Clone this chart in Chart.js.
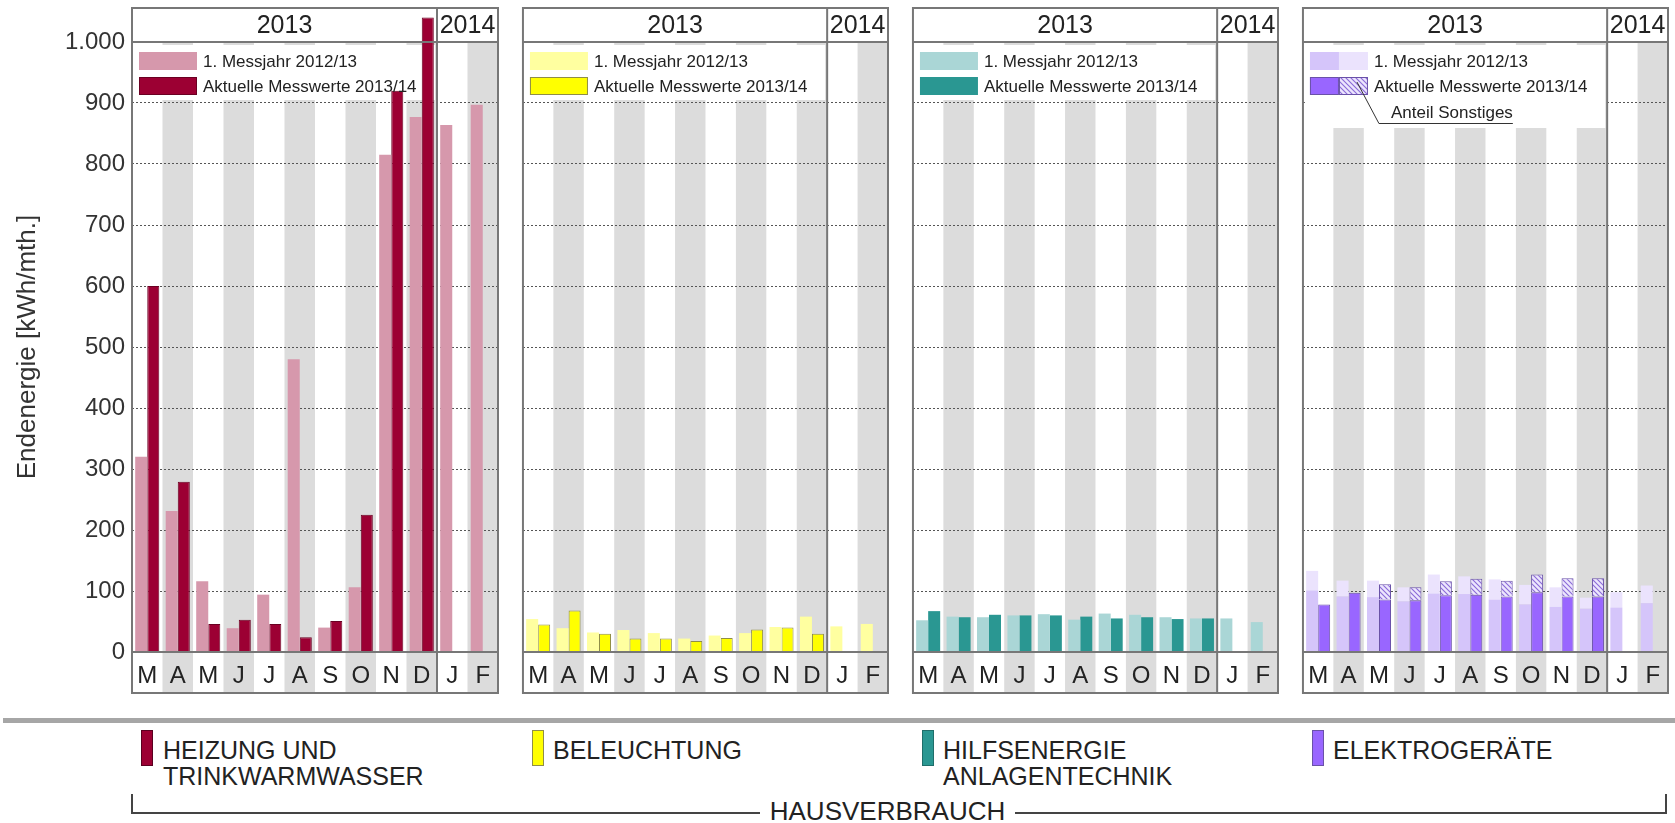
<!DOCTYPE html>
<html>
<head>
<meta charset="utf-8">
<script src="https://cdn.jsdelivr.net/npm/chart.js@4.4.1/dist/chart.umd.min.js"></script>
<style>
  html, body { margin: 0; padding: 0; background: #fff; }
  body { width: 1675px; height: 823px; position: relative; overflow: hidden;
         font-family: "Liberation Sans", Arial, sans-serif; color: #222; }
  canvas { position: absolute; top: 0; }
  .sep { position: absolute; left: 3px; right: 0; top: 718px; height: 5px; background: #a6a6a6; }
  .key { position: absolute; top: 730px; width: 10px; height: 34px; border: 1px solid #555; }
  .keytext { position: absolute; top: 737px; font-size: 25px; line-height: 26px; white-space: nowrap; }
  .br { position: absolute; background: #444; }
  .total { position: absolute; top: 798px; left: 760px; width: 255px; text-align: center;
           font-size: 26px; line-height: 26px; }
</style>
</head>
<body>
<canvas id="p0" width="502" height="700" style="left:0px"></canvas>
<canvas id="p1" width="374" height="700" style="left:518px"></canvas>
<canvas id="p2" width="374" height="700" style="left:908px"></canvas>
<canvas id="p3" width="374" height="700" style="left:1298px"></canvas>

<div class="sep"></div>
<div class="key" style="left:141px;background:#9c0033;border-color:#5a0020"></div>
<div class="keytext" style="left:163px">HEIZUNG UND<br>TRINKWARMWASSER</div>
<div class="key" style="left:532px;background:#ffff00;border-color:#8f8d48"></div>
<div class="keytext" style="left:553px">BELEUCHTUNG</div>
<div class="key" style="left:922px;background:#2a9792;border-color:#1f6e6a"></div>
<div class="keytext" style="left:943px">HILFSENERGIE<br>ANLAGENTECHNIK</div>
<div class="key" style="left:1312px;background:#9966ff;border-color:#6a52a8"></div>
<div class="keytext" style="left:1333px">ELEKTROGERÄTE</div>

<div class="br" style="left:131px;top:794px;width:2px;height:20px"></div>
<div class="br" style="left:131px;top:812px;width:629px;height:2px"></div>
<div class="br" style="left:1015px;top:812px;width:652px;height:2px"></div>
<div class="br" style="left:1665px;top:794px;width:2px;height:20px"></div>
<div class="total">HAUSVERBRAUCH</div>

<script>
// Monate März 2013 bis Februar 2014
const months = ['M', 'A', 'M', 'J', 'J', 'A', 'S', 'O', 'N', 'D', 'J', 'F'];
const years = ['2013', '2014'];
const monthsIn2013 = 10;
const legendLabels = ['1. Messjahr 2012/13', 'Aktuelle Messwerte 2013/14'];
const noteLabel = 'Anteil Sonstiges';
const yTitle = 'Endenergie [kWh/mth.]';

// Heizung und Trinkwarmwasser
const heatPrev = [320, 231, 116, 39, 94, 480, 40, 106, 815, 877, 864, 897];
const heatCurr = [600, 279, 46, 53, 46, 24, 51, 225, 920, 1040, null, null];

// Beleuchtung
const lightPrev = [54, 39, 32, 36, 31, 22, 27, 31, 41, 58, 42, 46];
const lightCurr = [45, 68, 30, 22, 22, 18, 23, 37, 40, 30, null, null];

// Hilfsenergie Anlagentechnik
const auxPrev = [52, 58, 57, 60, 62, 53, 63, 61, 57, 55, 55, 49];
const auxCurr = [67, 57, 61, 60, 60, 58, 55, 57, 54, 55, null, null];

// Elektrogeräte (+ Anteil Sonstiges)
const elecPrev = [101, 91, 90, 83, 96, 95, 86, 78, 74, 71, 73, 80];
const otherPrev = [32, 26, 27, 23, 31, 29, 33, 32, 32, 18, 25, 29];
const elecCurr = [78, 97, 86, 85, 93, 94, 91, 98, 91, 91, null, null];
const otherCurr = [null, null, 25, 21, 23, 26, 26, 29, 30, 30, null, null];

const FONT = '"Liberation Sans", Arial, sans-serif';
Chart.defaults.font.family = FONT;
Chart.defaults.color = '#222';

// Schraffur für "Anteil Sonstiges"
function makeHatch() {
    const c = document.createElement('canvas');
    c.width = 5; c.height = 5;
    const g = c.getContext('2d');
    g.fillStyle = '#ece5fd';
    g.fillRect(0, 0, 5, 5);
    g.strokeStyle = '#8a6ad8';
    g.lineWidth = 1.1;
    g.beginPath();
    g.moveTo(-1, -1); g.lineTo(6, 6);
    g.moveTo(-1, 4); g.lineTo(1, 6);
    g.moveTo(4, -1); g.lineTo(6, 1);
    g.stroke();
    return g.createPattern(c, 'repeat');
}
const hatch = makeHatch();

function divX(chart) {
    const x = chart.scales.x;
    return (x.getPixelForValue(monthsIn2013 - 1) + x.getPixelForValue(monthsIn2013)) / 2;
}

function whiteBox(chart, o) {
    const { ctx, chartArea: a } = chart;
    ctx.save();
    ctx.fillStyle = '#fff';
    ctx.fillRect(a.left + 2, a.top + 3, divX(chart) - a.left - 4, o.boxH);
    ctx.restore();
}

const decor = {
    id: 'decor',
    beforeDraw(chart, args, o) {
        const { ctx, chartArea: a, scales: { x } } = chart;
        const colW = x.width / months.length;
        ctx.save();
        ctx.fillStyle = '#dcdcdc';
        months.forEach((m, i) => {
            if (i % 2) ctx.fillRect(x.getPixelForValue(i) - colW / 2, a.top, colW, x.bottom - a.top);
        });
        ctx.restore();
    },
    beforeDatasetsDraw(chart, args, o) {
        whiteBox(chart, o);
    },
    afterDraw(chart, args, o) {
        const { ctx, chartArea: a, scales: { x } } = chart;
        if (o.boxOnTop) whiteBox(chart, o);
        const dx = divX(chart);
        ctx.save();

        // Legende
        o.rows.forEach((idxs, r) => {
            const y = a.top + 10 + r * 25, h = 18, w = 58;
            const part = w / idxs.length;
            idxs.forEach((di, j) => {
                const ds = chart.data.datasets[di];
                const sx = a.left + 7 + j * part;
                ctx.fillStyle = ds.backgroundColor;
                ctx.fillRect(sx, y, part, h);
                if (ds.borderWidth) {
                    ctx.strokeStyle = ds.borderColor;
                    ctx.lineWidth = 1;
                    ctx.strokeRect(sx + 0.5, y + 0.5, part - 1, h - 1);
                }
            });
            ctx.fillStyle = '#222';
            ctx.font = '17px ' + FONT;
            ctx.textAlign = 'left';
            ctx.textBaseline = 'middle';
            ctx.fillText(chart.data.datasets[idxs[0]].label, a.left + 71, y + h / 2 + 1);
        });
        if (o.note) {
            ctx.font = '17px ' + FONT;
            const tw = ctx.measureText(noteLabel).width;
            ctx.fillText(noteLabel, a.left + 88, a.top + 71);
            ctx.strokeStyle = '#333';
            ctx.lineWidth = 1;
            ctx.beginPath();
            ctx.moveTo(a.left + 54, a.top + 40);
            ctx.lineTo(a.left + 76, a.top + 81.5);
            ctx.lineTo(a.left + 88 + tw, a.top + 81.5);
            ctx.stroke();
        }

        // Rahmen, Kopfzeile, Trennlinie
        const top = 8, bottom = x.bottom;
        ctx.strokeStyle = '#777';
        ctx.lineWidth = 2;
        ctx.strokeRect(a.left, top, a.right - a.left, bottom - top);
        ctx.beginPath();
        ctx.moveTo(a.left, a.top); ctx.lineTo(a.right, a.top);
        ctx.moveTo(a.left, a.bottom); ctx.lineTo(a.right, a.bottom);
        ctx.moveTo(dx, top); ctx.lineTo(dx, bottom);
        ctx.stroke();

        ctx.fillStyle = '#222';
        ctx.font = '25px ' + FONT;
        ctx.textAlign = 'center';
        ctx.textBaseline = 'middle';
        const hy = (top + a.top) / 2 + 1;
        ctx.fillText(years[0], (a.left + dx) / 2, hy);
        ctx.fillText(years[1], (dx + a.right) / 2, hy);
        ctx.restore();
    }
};

function bar(label, data, bg, border, stack) {
    const ds = { label: label, data: data, backgroundColor: bg, stack: stack, clip: false };
    if (border) { ds.borderColor = border; ds.borderWidth = 1; }
    return ds;
}

const panels = [
    { id: 'p0', datasets: [
        bar(legendLabels[0], heatPrev, '#d698ac', null, 'a'),
        bar(legendLabels[1], heatCurr, '#9c0033', '#6a0022', 'b')
      ], rows: [[0], [1]], boxH: 55 },
    { id: 'p1', datasets: [
        bar(legendLabels[0], lightPrev, '#ffffa0', null, 'a'),
        bar(legendLabels[1], lightCurr, '#ffff00', '#8f8d48', 'b')
      ], rows: [[0], [1]], boxH: 55 },
    { id: 'p2', datasets: [
        bar(legendLabels[0], auxPrev, '#aad6d6', null, 'a'),
        bar(legendLabels[1], auxCurr, '#2a9792', null, 'b')
      ], rows: [[0], [1]], boxH: 55 },
    { id: 'p3', datasets: [
        bar(legendLabels[0], elecPrev, '#d5c5fa', null, 'a'),
        bar(noteLabel, otherPrev, '#ebe3fd', null, 'a'),
        bar(legendLabels[1], elecCurr, '#9966ff', '#6a52a8', 'b'),
        bar(noteLabel, otherCurr, hatch, '#6a52a8', 'b')
      ], rows: [[0, 1], [2, 3]], boxH: 83, boxOnTop: true, note: true }
];

panels.forEach(function(p, k) {
    const first = k === 0;
    new Chart(document.getElementById(p.id), {
        type: 'bar',
        data: { labels: months, datasets: p.datasets },
        plugins: [decor],
        options: {
            responsive: false,
            animation: false,
            layout: { padding: { left: first ? 0 : 4, right: 4, top: 42, bottom: 7 } },
            datasets: { bar: { categoryPercentage: 0.79, barPercentage: 1, clip: false } },
            plugins: {
                legend: { display: false },
                tooltip: { enabled: false },
                decor: { rows: p.rows, boxH: p.boxH, boxOnTop: !!p.boxOnTop, note: !!p.note }
            },
            scales: {
                x: {
                    stacked: true,
                    grid: { display: false, drawTicks: false },
                    border: { display: false },
                    ticks: { color: '#222', font: { size: 24 }, padding: 10, maxRotation: 0, autoSkip: false },
                    afterFit: function(s) { s.height = 41; }
                },
                y: {
                    stacked: true,
                    min: 0,
                    max: 1000,
                    z: 1,
                    grid: {
                        drawTicks: false,
                        lineWidth: 1,
                        color: function(c) {
                            return c.tick && c.tick.value > 0 && c.tick.value < 1000 ? '#555' : 'rgba(0,0,0,0)';
                        }
                    },
                    border: { display: false, dash: [2, 2] },
                    ticks: {
                        display: first,
                        stepSize: 100,
                        padding: 7,
                        color: '#333',
                        font: { size: 24 },
                        callback: function(v) {
                            return String(v).replace(/\B(?=(\d{3})+(?!\d))/g, '.');
                        }
                    },
                    title: {
                        display: first,
                        text: yTitle,
                        color: '#333',
                        font: { size: 26 },
                        padding: { top: 12, bottom: 0 }
                    },
                    afterFit: function(s) { s.width = first ? 132 : 0; }
                }
            }
        }
    });
});
</script>
</body>
</html>
